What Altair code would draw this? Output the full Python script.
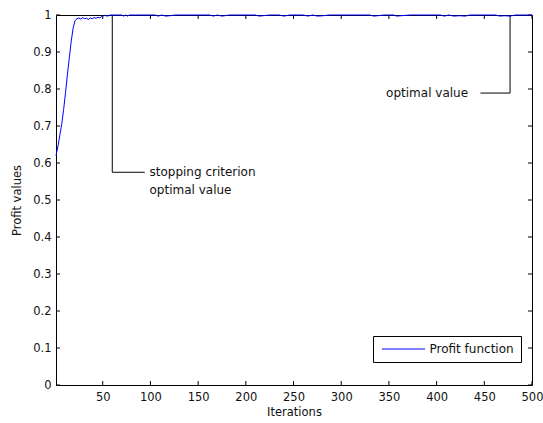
import altair as alt
import pandas as pd

# ---- data ----
rise_iter = [1, 3, 5, 7, 9, 11, 13, 15, 17, 19, 21, 23]
rise_val = [0.62, 0.645, 0.675, 0.705, 0.745, 0.79, 0.84, 0.885, 0.93, 0.965, 0.985, 0.99]

settle_iter = [25, 27, 29, 31, 33, 35, 37, 39, 41, 43, 45, 47, 49, 52, 55, 58, 61]
settle_val = [0.992, 0.989, 0.993, 0.99, 0.991, 0.988, 0.992, 0.99, 0.993, 0.991, 0.994,
              0.992, 0.996, 0.999, 0.997, 1.0, 1.0]

plateau_iter = [70, 72, 74, 76, 78, 82, 105, 108, 112, 116, 120, 126, 162, 166, 170, 175,
                183, 210, 214, 218, 225, 235, 240, 246, 260, 265, 270, 275, 281, 287, 330,
                334, 338, 345, 355, 358, 372, 375, 404, 408, 413, 418, 424, 430, 435, 462,
                466, 471, 477, 483, 500]
plateau_val = [1.0, 0.997, 1.0, 0.997, 1.0, 1.0, 1.0, 0.997, 1.0, 0.997, 0.998, 1.0, 1.0,
               0.997, 1.0, 0.997, 1.0, 1.0, 0.997, 0.998, 1.0, 1.0, 0.997, 1.0, 1.0, 0.997,
               1.0, 0.997, 0.998, 1.0, 1.0, 0.997, 0.998, 1.0, 1.0, 0.997, 1.0, 1.0, 1.0,
               0.997, 1.0, 0.997, 0.998, 0.997, 1.0, 1.0, 0.997, 0.998, 0.997, 1.0, 1.0]

x_ticks = [50, 100, 150, 200, 250, 300, 350, 400, 450, 500]
y_ticks = [0, 0.1, 0.2, 0.3, 0.4, 0.5, 0.6, 0.7, 0.8, 0.9, 1.0]

ann_group = ["a", "a", "a", "b", "b", "b"]
ann_x = [60, 60, 94, 477, 477, 446]
ann_y = [1.0, 0.575, 0.575, 1.0, 0.789, 0.789]
ann_order = [0, 1, 2, 0, 1, 2]

left_txt_x = [99, 99]
left_txt_y = [0.575, 0.527]
left_txt_label = ["stopping criterion", "optimal value"]
right_txt_x = [433]
right_txt_y = [0.789]
right_txt_label = ["optimal value"]

FONT = "DejaVu Sans"
W, H = 476, 370

# ---- tables ----
series = pd.DataFrame({
    "Iterations": rise_iter + settle_iter + plateau_iter,
    "Profit": rise_val + settle_val + plateau_val,
})
series["series"] = "Profit function"

ann = pd.DataFrame({"g": ann_group, "x": ann_x, "y": ann_y, "o": ann_order})
ltxt = pd.DataFrame({"x": left_txt_x, "y": left_txt_y, "label": left_txt_label})
rtxt = pd.DataFrame({"x": right_txt_x, "y": right_txt_y, "label": right_txt_label})
xt = pd.DataFrame({"v": x_ticks})
yt = pd.DataFrame({"v": y_ticks})

xscale = alt.Scale(domain=[1, 500], nice=False, zero=False)
yscale = alt.Scale(domain=[0, 1], nice=False)

AX = alt.Axis(values=x_ticks, ticks=False, domain=False, grid=False,
              labelPadding=6, titlePadding=4, labelFlush=False, labelOverlap=False)
AY = alt.Axis(values=y_ticks, ticks=False, domain=False, grid=False,
              labelPadding=5, titlePadding=10, format=".1~f", labelFlush=False,
              labelOverlap=False)


def X(field):
    return alt.X(field, scale=xscale, axis=AX, title="Iterations")


def Y(field):
    return alt.Y(field, scale=yscale, axis=AY, title="Profit values")


line = alt.Chart(series).mark_line(strokeWidth=1, clip=False).encode(
    x=X("Iterations:Q"),
    y=Y("Profit:Q"),
    color=alt.Color("series:N",
                    scale=alt.Scale(domain=["Profit function"], range=["#0000ff"]),
                    legend=alt.Legend(title=None, orient="none", legendX=317, legendY=321,
                                      symbolType="M-4.3,0H4.3", symbolSize=100,
                                      symbolStrokeWidth=1, symbolOffset=17.5,
                                      labelOffset=20,
                                      labelFont=FONT, labelFontSize=12, labelColor="#111",
                                      strokeColor="black", fillColor="white",
                                      padding=7)),
    order=alt.Order("Iterations:Q"),
)

ann_lines = alt.Chart(ann).mark_line(color="black", strokeWidth=1, clip=False).encode(
    x=X("x:Q"), y=Y("y:Q"), detail="g:N", order="o:Q",
)

ltexts = alt.Chart(ltxt).mark_text(font=FONT, fontSize=12, color="#111",
                                   baseline="middle", align="left").encode(
    x=X("x:Q"), y=Y("y:Q"), text="label:N",
)
rtexts = alt.Chart(rtxt).mark_text(font=FONT, fontSize=12, color="#111",
                                   baseline="middle", align="right").encode(
    x=X("x:Q"), y=Y("y:Q"), text="label:N",
)

tick_len = 4
bot = alt.Chart(xt).mark_rule(color="black", strokeWidth=1).encode(
    x=X("v:Q"), y=alt.value(H), y2=alt.value(H - tick_len))
top = alt.Chart(xt).mark_rule(color="black", strokeWidth=1).encode(
    x=X("v:Q"), y=alt.value(0), y2=alt.value(tick_len))
left = alt.Chart(yt).mark_rule(color="black", strokeWidth=1).encode(
    y=Y("v:Q"), x=alt.value(0), x2=alt.value(tick_len))
right = alt.Chart(yt).mark_rule(color="black", strokeWidth=1).encode(
    y=Y("v:Q"), x=alt.value(W), x2=alt.value(W - tick_len))

chart = alt.layer(bot, top, left, right, ann_lines, ltexts, rtexts, line).properties(
    width=W, height=H,
    background="white",
    autosize=alt.AutoSizeParams(type="none"),
    padding={"left": 56, "top": 15, "right": 11, "bottom": 38},
).configure_view(
    stroke="black", strokeWidth=1
).configure_axis(
    labelFont=FONT, labelFontSize=11.5, labelColor="#111",
    titleFont=FONT, titleFontSize=11.5, titleFontWeight="normal", titleColor="#111",
)

chart.save("out.html", embed_options={"renderer": "svg", "actions": False})
